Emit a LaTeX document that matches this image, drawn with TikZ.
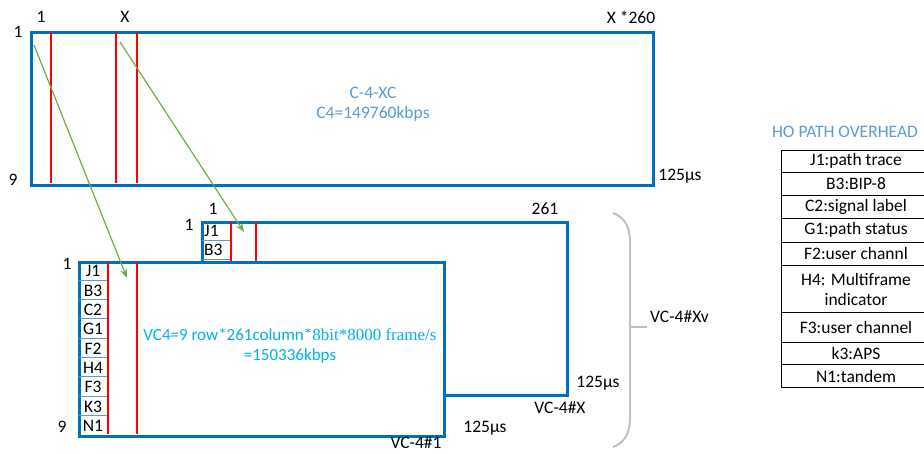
\documentclass[tikz,border=0pt]{standalone}
\usepackage{fontspec}
\setmainfont{Carlito}
\newfontfamily\serifpart{Liberation Serif}
\usetikzlibrary{arrows.meta}
\definecolor{frameblue}{HTML}{0070C0}
\definecolor{lightblue}{HTML}{5B9BD5}
\definecolor{cyanblue}{HTML}{00B0F0}
\definecolor{arrowgreen}{HTML}{70AD47}
\definecolor{bracegrey}{HTML}{BFBFBF}
\begin{document}
\begin{tikzpicture}[x=1pt,y=-1pt,
  font=\fontsize{17.5}{20}\selectfont,
  frame/.style={draw=frameblue, line width=2.6pt, fill=white, inner sep=0pt, anchor=north west},
  redline/.style={draw=red, line width=1.4pt},
  cellline/.style={draw=lightblue, line width=1pt},
  lbl/.style={inner sep=0pt, text=black},
  flow/.style={draw=arrowgreen, line width=1.2pt, -{Stealth[length=9pt,width=7pt]}},
  tabline/.style={draw=black, line width=0.9pt},
  tabtext/.style={inner sep=0pt, text=black}
]
\useasboundingbox (0,0) rectangle (924,453);
\clip (0,0) rectangle (924,453);

% ---------- top frame C-4-XC ----------
\node[frame, minimum width=622pt, minimum height=153pt] (c4) at (30,31) {};
\draw[redline] (51,32) -- (51,183);
\draw[redline] (116,32) -- (116,183);
\draw[redline] (137,32) -- (137,183);
\node[lbl] (t1) at (41,17) {1};
\node[lbl] (tX) at (125,17) {X};
\node[lbl] (tX260) at (631,17) {X *260};
\node[lbl] (r1) at (18,32) {1};
\node[lbl] (r9) at (13,180) {9};
\node[lbl] (t125a) at (680,176) {125μs};
\node[inner sep=0pt, text=lightblue, align=center] (c4txt) at (373,104) {C-4-XC\\C4=149760kbps};

% ---------- back frame VC-4#X ----------
\node[frame, minimum width=365pt, minimum height=173pt] (vcx) at (201,221) {};
\foreach \k in {1,...,8} {\draw[cellline] (202,221+19.2*\k) -- (231,221+19.2*\k);}
\draw[redline] (231,222) -- (231,393);
\draw[redline] (256,222) -- (256,393);
\node[tabtext, anchor=west] (bj1) at (204,230.5) {J1};
\node[tabtext, anchor=west] (bb3) at (204,250) {B3};
\node[lbl] (x1) at (213,209) {1};
\node[lbl] (x261) at (545,209) {261};
\node[lbl] (xr1) at (189,225) {1};
\node[lbl] (x125) at (598,383) {125μs};
\node[lbl] (xname) at (560,408) {VC-4\#X};

% ---------- front frame VC-4#1 ----------
\node[frame, minimum width=365pt, minimum height=174pt] (vc1) at (78,261) {};
\foreach \k in {1,...,8} {\draw[cellline] (79,261+19.33*\k) -- (108,261+19.33*\k);}
\draw[redline] (108,262) -- (108,434);
\draw[redline] (137,262) -- (137,434);
\foreach \lab [count=\i] in {J1,B3,C2,G1,F2,H4,F3,K3,N1} {
  \node[tabtext] (f\i) at (93,261+19.33*\i-9.2) {\lab};
}
\node[lbl] (f1r) at (67,264) {1};
\node[lbl] (f9r) at (62,427) {9};
\node[lbl] (f125) at (485,428) {125μs};
\node[lbl] (fname) at (416,443) {VC-4\#1};
\node[inner sep=0pt, text=cyanblue, align=center, font=\fontsize{17}{19.5}\selectfont] (vc4txt) at (290,346)
  {VC4=9 row*261column*{\serifpart 8bit*8000 frame/s}\\=150336kbps};

% ---------- mapping arrows ----------
\coordinate (a1s) at (34,45);
\coordinate (a1e) at (127,278);
\coordinate (a2s) at (120,42);
\coordinate (a2e) at (244,232);
\draw[flow] (a1s) -- (a1e);
\draw[flow] (a2s) -- (a2e);

% ---------- brace ----------
\coordinate (btop) at (613,213);
\coordinate (bbot) at (613,447);
\coordinate (bmid) at (630,327);
\coordinate (btip) at (647,327);
\draw[bracegrey, line width=2pt] (btop) .. controls (624,217) and (630,226) .. (630,242)
   -- (630,418) .. controls (630,434) and (624,443) .. (bbot);
\draw[bracegrey, line width=2pt] (bmid) -- (btip);
\node[lbl, anchor=west] (xv) at (650,317) {VC-4\#Xv};

% ---------- HO path overhead table ----------
\node[inner sep=0pt, text=lightblue] (hotitle) at (845,132) {HO PATH OVERHEAD};
\draw[tabline] (781,150) rectangle (931,387);
\foreach \yy in {172,195,218,242,265,312,342,364} {\draw[tabline] (781,\yy) -- (931,\yy);}
\node[tabtext] (h1) at (856,161) {J1:path trace};
\node[tabtext] (h2) at (856,183.5) {B3:BIP-8};
\node[tabtext] (h3) at (856,206.5) {C2:signal label};
\node[tabtext] (h4) at (856,230) {G1:path status};
\node[tabtext] (h5) at (856,253.5) {F2:user channl};
\node[tabtext, align=center] (h6) at (856,289) {H4: Multiframe\\indicator};
\node[tabtext] (h7) at (856,327) {F3:user channel};
\node[tabtext] (h8) at (856,353) {k3:APS};
\node[tabtext] (h9) at (856,376) {N1:tandem};
\end{tikzpicture}
\end{document}
